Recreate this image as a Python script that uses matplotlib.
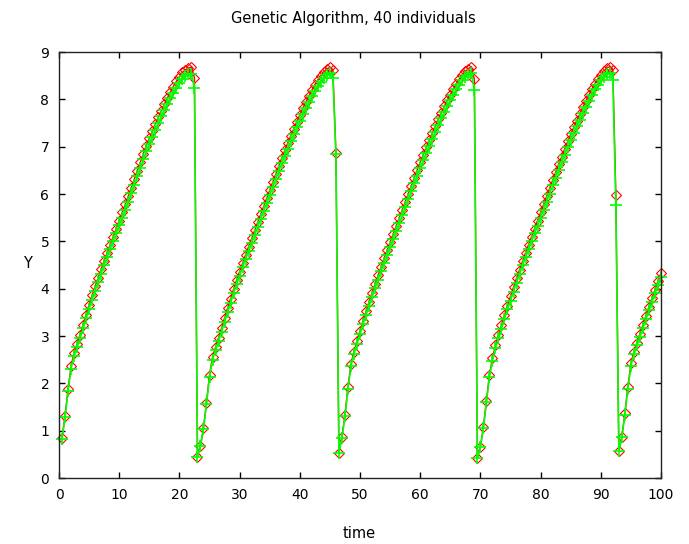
import numpy as np
import matplotlib
matplotlib.use('Agg')
import matplotlib.pyplot as plt

RED = '#ff0000'
GREEN = '#00ff00'

# best individual (red diamonds), one list per cycle, sampled every 0.5 time units
best_c1 = [0.84, 1.31, 1.87, 2.36, 2.64, 2.83, 3.03, 3.24, 3.45, 3.66,
           3.86, 4.05, 4.23, 4.41, 4.59, 4.76, 4.93, 5.10, 5.27, 5.44,
           5.61, 5.78, 5.95, 6.13, 6.31, 6.49, 6.67, 6.85, 7.02, 7.18,
           7.33, 7.48, 7.62, 7.76, 7.90, 8.03, 8.15, 8.27, 8.38, 8.48,
           8.57, 8.62, 8.66, 8.68, 8.46]
best_c2 = [0.45, 0.68, 1.06, 1.59, 2.18, 2.55, 2.76, 2.96, 3.17, 3.38,
           3.59, 3.79, 3.99, 4.18, 4.36, 4.54, 4.72, 4.89, 5.06, 5.23,
           5.40, 5.57, 5.74, 5.91, 6.08, 6.25, 6.42, 6.59, 6.76, 6.92,
           7.08, 7.23, 7.38, 7.53, 7.67, 7.81, 7.94, 8.07, 8.19, 8.31,
           8.41, 8.50, 8.58, 8.64, 8.68, 8.62, 6.86]
best_c3 = [0.52, 0.87, 1.33, 1.92, 2.41, 2.67, 2.90, 3.11, 3.32, 3.52,
           3.72, 3.91, 4.10, 4.28, 4.46, 4.64, 4.81, 4.98, 5.15, 5.32,
           5.49, 5.66, 5.83, 6.00, 6.17, 6.34, 6.51, 6.67, 6.83, 6.99,
           7.14, 7.29, 7.44, 7.58, 7.72, 7.85, 7.98, 8.10, 8.22, 8.33,
           8.43, 8.52, 8.59, 8.65, 8.69, 8.42]
best_c4 = [0.42, 0.66, 1.08, 1.63, 2.18, 2.53, 2.80, 3.02, 3.23, 3.44,
           3.64, 3.84, 4.03, 4.22, 4.40, 4.58, 4.76, 4.93, 5.10, 5.27,
           5.44, 5.61, 5.78, 5.95, 6.12, 6.29, 6.46, 6.63, 6.79, 6.95,
           7.11, 7.26, 7.41, 7.55, 7.69, 7.83, 7.96, 8.09, 8.21, 8.33,
           8.43, 8.52, 8.60, 8.66, 8.69, 8.62, 5.98]
best_c5 = [0.56, 0.87, 1.37, 1.93, 2.42, 2.66, 2.86, 3.05, 3.24, 3.43,
           3.62, 3.80, 3.98, 4.16, 4.33]

# population mean (green plus)
mean_c1 = [0.82, 1.28, 1.83, 2.31, 2.58, 2.76, 2.95, 3.16, 3.37, 3.57,
           3.77, 3.96, 4.14, 4.32, 4.50, 4.67, 4.84, 5.00, 5.17, 5.34,
           5.50, 5.67, 5.84, 6.02, 6.20, 6.37, 6.55, 6.73, 6.90, 7.06,
           7.21, 7.36, 7.50, 7.64, 7.78, 7.91, 8.03, 8.14, 8.25, 8.35,
           8.44, 8.49, 8.53, 8.54, 8.24]
mean_c2 = [0.45, 0.67, 1.04, 1.56, 2.14, 2.50, 2.70, 2.89, 3.09, 3.30,
           3.50, 3.70, 3.90, 4.09, 4.27, 4.45, 4.62, 4.79, 4.96, 5.13,
           5.30, 5.47, 5.64, 5.80, 5.97, 6.14, 6.31, 6.48, 6.65, 6.81,
           6.96, 7.11, 7.26, 7.41, 7.55, 7.69, 7.82, 7.94, 8.06, 8.18,
           8.28, 8.37, 8.45, 8.51, 8.55, 8.45, 6.84]
mean_c3 = [0.52, 0.85, 1.30, 1.88, 2.36, 2.62, 2.84, 3.04, 3.25, 3.44,
           3.63, 3.82, 4.01, 4.19, 4.37, 4.54, 4.71, 4.88, 5.05, 5.22,
           5.38, 5.55, 5.72, 5.89, 6.06, 6.23, 6.39, 6.55, 6.71, 6.87,
           7.02, 7.17, 7.32, 7.46, 7.60, 7.73, 7.86, 7.98, 8.10, 8.21,
           8.31, 8.40, 8.47, 8.52, 8.56, 8.19]
mean_c4 = [0.42, 0.65, 1.06, 1.60, 2.14, 2.48, 2.74, 2.95, 3.15, 3.36,
           3.56, 3.75, 3.94, 4.13, 4.31, 4.49, 4.66, 4.83, 5.00, 5.17,
           5.33, 5.50, 5.67, 5.84, 6.01, 6.18, 6.34, 6.51, 6.67, 6.83,
           6.99, 7.14, 7.29, 7.43, 7.57, 7.71, 7.84, 7.97, 8.09, 8.21,
           8.31, 8.40, 8.47, 8.53, 8.56, 8.41, 5.77]
mean_c5 = [0.56, 0.86, 1.34, 1.89, 2.37, 2.61, 2.80, 2.98, 3.17, 3.36,
           3.54, 3.72, 3.90, 4.07, 4.24]

best = np.array(best_c1 + best_c2 + best_c3 + best_c4 + best_c5)
mean = np.array(mean_c1 + mean_c2 + mean_c3 + mean_c4 + mean_c5)
dt = 0.5
time = dt * np.arange(1, len(best) + 1)

xticks = [0, 10, 20, 30, 40, 50, 60, 70, 80, 90, 100]
yticks = [0, 1, 2, 3, 4, 5, 6, 7, 8, 9]

fig = plt.figure(figsize=(6.89, 5.44), dpi=100)
ax = fig.add_axes([59 / 689, 1 - 478 / 544, 602 / 689, 426 / 544])

ax.plot(time, best, color=RED, lw=1.0, marker='D', ms=5, mfc='none', mec=RED, mew=0.8,
        clip_on=False)
ax.plot(time, mean, color=GREEN, lw=1.2, marker='+', ms=8, mew=1.2, clip_on=False)

ax.set_xlim(0, 100)
ax.set_ylim(0, 9)
ax.set_xticks(xticks)
ax.set_yticks(yticks)
ax.tick_params(direction='in', top=True, right=True, length=4, width=1,
               labelsize=10, pad=7)
for s in ax.spines.values():
    s.set_linewidth(1.0)
    s.set_color('#222222')

fig.text(0.513, 1 - 18 / 544, 'Genetic Algorithm, 40 individuals', ha='center', va='center', fontsize=10.5)
fig.text(359 / 689, 1 - 533 / 544, 'time', ha='center', va='center', fontsize=10.5)
fig.text(27 / 689, 1 - 263 / 544, 'Y', ha='center', va='center', fontsize=10.5)

fig.savefig('out.png', dpi=100)
